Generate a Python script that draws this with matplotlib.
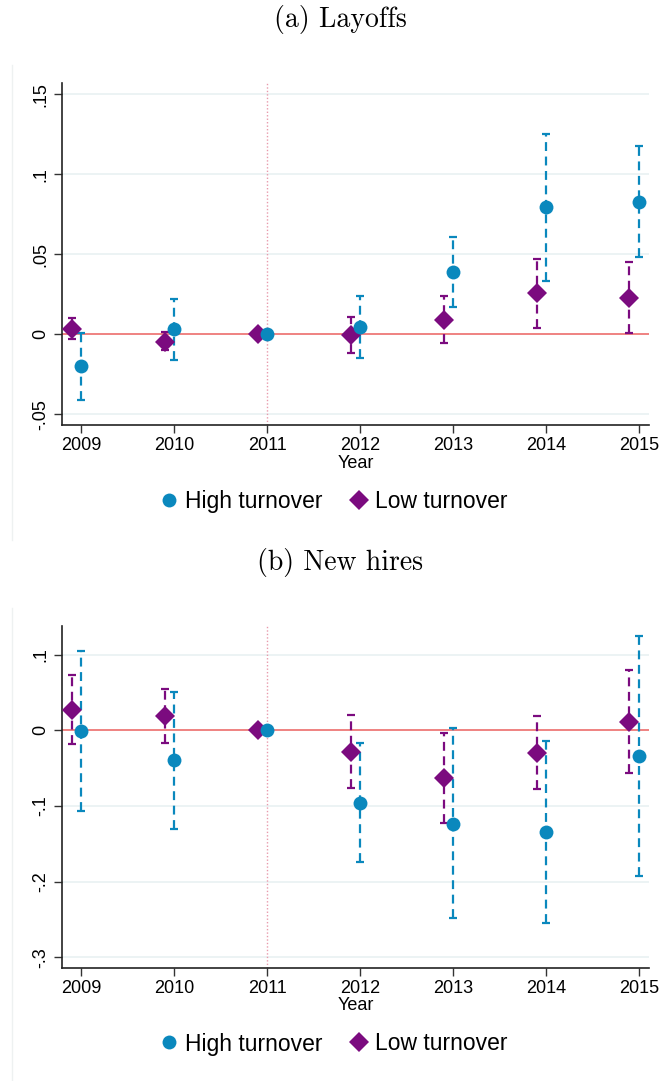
import matplotlib
matplotlib.use("Agg")
import matplotlib.pyplot as plt
from matplotlib.lines import Line2D
import numpy as np

plt.rcParams['font.family'] = ['Liberation Sans', 'DejaVu Sans']

# Data
years = [2009, 2010, 2011, 2012, 2013, 2014, 2015]

# (a) Layoffs
lay_high = [-0.020, 0.003, 0.000, 0.0048, 0.0389, 0.0794, 0.0829]
lay_high_lo = [-0.041, -0.016, 0.000, -0.0146, 0.0169, 0.0335, 0.0481]
lay_high_hi = [0.0006, 0.022, 0.000, 0.0241, 0.061, 0.125, 0.1177]
lay_low = [0.0033, -0.0046, 0.000, -0.0004, 0.0089, 0.0256, 0.0229]
lay_low_lo = [-0.003, -0.010, 0.000, -0.0119, -0.0056, 0.0039, 0.0006]
lay_low_hi = [0.010, 0.0012, 0.000, 0.0108, 0.0237, 0.0473, 0.0452]

# (b) New hires
hir_high = [-0.001, -0.0396, 0.000, -0.0956, -0.1233, -0.1348, -0.0335]
hir_high_lo = [-0.106, -0.130, 0.000, -0.1744, -0.248, -0.254, -0.192]
hir_high_hi = [0.105, 0.051, 0.000, -0.0172, 0.003, -0.0145, 0.125]
hir_low = [0.0268, 0.019, 0.000, -0.0282, -0.0634, -0.0295, 0.0114]
hir_low_lo = [-0.0185, -0.0172, 0.000, -0.0766, -0.122, -0.0775, -0.0568]
hir_low_hi = [0.073, 0.055, 0.000, 0.0202, -0.003, 0.019, 0.0797]

lay_ticks = [-0.05, 0, 0.05, 0.1, 0.15]
lay_ticklabels = ['-.05', '0', '.05', '.1', '.15']
hir_ticks = [-0.3, -0.2, -0.1, 0, 0.1]
hir_ticklabels = ['-.3', '-.2', '-.1', '0', '.1']

blue = '#0a88bd'
purple = '#7b0b7f'

W, H = 659, 1081
fig = plt.figure(figsize=(W / 100, H / 100), dpi=100)


def panel(rect, high, hlo, hhi, low, llo, lhi, ticks, ticklabels, ylim):
    ax = fig.add_axes(rect)
    x = np.array(years, dtype=float)
    xl = x - 0.1
    high = np.array(high); low = np.array(low)
    # confidence intervals (skip base year)
    m = x != 2011
    eb = ax.errorbar(x[m], high[m], yerr=[high[m] - np.array(hlo)[m], np.array(hhi)[m] - high[m]],
                     fmt='none', ecolor=blue, elinewidth=1.6, capsize=3, capthick=1.6, zorder=3)
    eb[2][0].set_linestyle((0, (4, 2.5)))
    eb2 = ax.errorbar(xl[m], low[m], yerr=[low[m] - np.array(llo)[m], np.array(lhi)[m] - low[m]],
                      fmt='none', ecolor=purple, elinewidth=1.6, capsize=3, capthick=1.6, zorder=3)
    eb2[2][0].set_linestyle((0, (4, 2.5)))
    ax.plot(xl, low, 'D', color=purple, markersize=10.5, markeredgewidth=0, zorder=5)
    ax.plot(x, high, 'o', color=blue, markersize=10, markeredgewidth=0, zorder=6)

    ax.axhline(0, color='#f07a78', linewidth=1.3, zorder=2)
    ax.axvline(2011, color='#e89aac', linewidth=1.0, linestyle=(0, (1, 1.5)), zorder=1)
    for t in ticks:
        ax.axhline(t, color='#e9f1f2', linewidth=1.2, zorder=0)

    ax.set_xlim(2008.79, 2015.11)
    ax.set_ylim(*ylim)
    ax.set_xticks(years)
    ax.set_xticklabels([str(y) for y in years], fontsize=13)
    ax.set_yticks(ticks)
    ax.set_yticklabels(ticklabels, fontsize=13, rotation=90, va='center')
    ax.tick_params(axis='both', direction='out', length=6, width=1.0, color='#333333')
    ax.tick_params(axis='x', pad=3)
    ax.tick_params(axis='y', pad=3)
    for s in ['top', 'right']:
        ax.spines[s].set_visible(False)
    for s in ['left', 'bottom']:
        ax.spines[s].set_linewidth(1.2)
        ax.spines[s].set_color('#222222')
    ax.set_xlabel('Year', fontsize=13, labelpad=0)
    return ax


# faint left edges of the graph regions
fig.add_artist(Line2D([12 / W, 12 / W], [1 - 540 / H, 1 - 65 / H], transform=fig.transFigure,
                      color='#eef1f1', linewidth=1.0))
fig.add_artist(Line2D([12 / W, 12 / W], [0, 1 - 608 / H], transform=fig.transFigure,
                      color='#eef1f1', linewidth=1.0))

panel([61.7 / W, 1 - 425 / H, (649 - 61.7) / W, (425 - 83) / H],
      lay_high, lay_high_lo, lay_high_hi, lay_low, lay_low_lo, lay_low_hi,
      lay_ticks, lay_ticklabels, (-0.0567, 0.157))
panel([61.7 / W, 1 - 967.7 / H, (649 - 61.7) / W, (967.7 - 626) / H],
      hir_high, hir_high_lo, hir_high_hi, hir_low, hir_low_lo, hir_low_hi,
      hir_ticks, hir_ticklabels, (-0.3136, 0.1378))

fig.text(340 / W, 1 - 20 / H, '(a) Layoffs', family='cmr10', fontsize=20, ha='center', va='center')
fig.text(340 / W, 1 - 562 / H, '(b) New hires', family='cmr10', fontsize=20, ha='center', va='center')

handles = [Line2D([], [], marker='o', color=blue, linestyle='none', markersize=10, markeredgewidth=0),
           Line2D([], [], marker='D', color=purple, linestyle='none', markersize=10.5, markeredgewidth=0)]
labels = ['High turnover', 'Low turnover']
for yc in [502, 1044]:
    fig.legend(handles, labels, loc='center', bbox_to_anchor=(331 / W, 1 - yc / H), ncol=2,
               frameon=False, fontsize=16.5, handletextpad=0.1, columnspacing=1.0, handlelength=1.2)

fig.savefig('out.png', dpi=100)
